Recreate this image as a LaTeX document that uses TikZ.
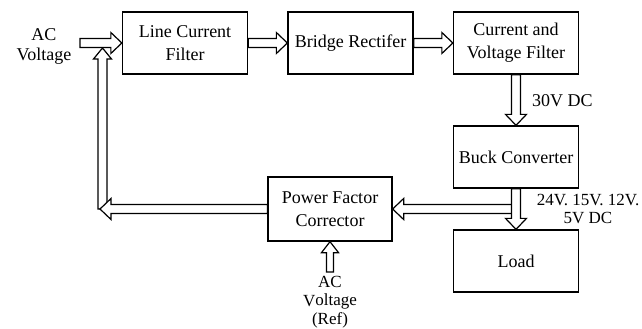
\documentclass[tikz,border=0pt]{standalone}
\usepackage{fontspec}
\setmainfont{Liberation Serif}
\usetikzlibrary{calc}
\tikzset{
  blk/.style={draw, line width=1.3pt, minimum width=125pt, minimum height=62pt, align=center, inner sep=2pt,
    font=\fontsize{18}{23}\selectfont},
  fatarr/.style={draw, fill=white, line width=1.2pt, line join=miter},
  lbl/.style={align=center, inner sep=0pt, font=\fontsize{18}{20}\selectfont}
}
% hollow block arrow from #1 to #2, shaft half width #3, head half width #4
\newcommand\fatarrow[4]{%
  \coordinate (hh) at ($(#2)!11pt!(#1)$);
  \draw[fatarr] ($(#1)!#3!90:(#2)$) -- ($(hh)!#3!90:(#2)$) -- ($(hh)!#4!90:(#2)$) -- (#2)
    -- ($(hh)!#4!-90:(#2)$) -- ($(hh)!#3!-90:(#2)$) -- ($(#1)!#3!-90:(#2)$) -- cycle;}
\begin{document}
\begin{tikzpicture}[x=1pt, y=-1pt]
\useasboundingbox (0,0) rectangle (642,329);
% blocks
\node[blk] (lcf)  at (185,43)    {Line Current\\Filter};
\node[blk] (br)   at (350.5,43)  {Bridge Rectifer};
\node[blk] (cvf)  at (516,43)    {Current and\\Voltage Filter};
\node[blk] (buck) at (516,157)   {Buck Converter};
\node[blk] (load) at (516,261)   {Load};
\node[blk, minimum width=124pt, minimum height=64pt] (pfc) at (330,209) {Power Factor\\Corrector};
% labels
\node[lbl] (aclbl) at (44,46) {AC\\Voltage};
\node[lbl, anchor=base west] (dc30) at (532,106) {30V DC};
\node[lbl, font=\fontsize{17}{18}\selectfont] (dcout) at (588,209) {24V. 15V. 12V.\\5V DC};
\node[lbl, font=\fontsize{17}{18.5}\selectfont] (reflbl) at (330,302) {AC\\\raisebox{-1pt}{V}oltage\\(Ref)};
% free ends
\coordinate (acin) at (80,43);
\coordinate (brs)  at (512,209);
\coordinate (fbb)  at (102.5,209);
\coordinate (fbt)  at (102.5,48);
\coordinate (fbtip) at (100,209);
\coordinate (refs) at (330,272);
% arrows
\fatarrow{acin}{lcf.west}{4.5pt}{10.5pt}
\fatarrow{lcf.east}{br.west}{4.5pt}{10.5pt}
\fatarrow{br.east}{cvf.west}{4.5pt}{10.5pt}
\fatarrow{cvf.south}{buck.north}{4.5pt}{10.5pt}
\fatarrow{brs}{pfc.east}{4.5pt}{10.5pt}
\fatarrow{buck.south}{load.north}{4.5pt}{10.5pt}
\fatarrow{fbb}{fbt}{4.5pt}{9pt}
\fatarrow{pfc.west}{fbtip}{4.5pt}{10.5pt}
\fatarrow{refs}{pfc.south}{3.5pt}{8.5pt}
\end{tikzpicture}
\end{document}
